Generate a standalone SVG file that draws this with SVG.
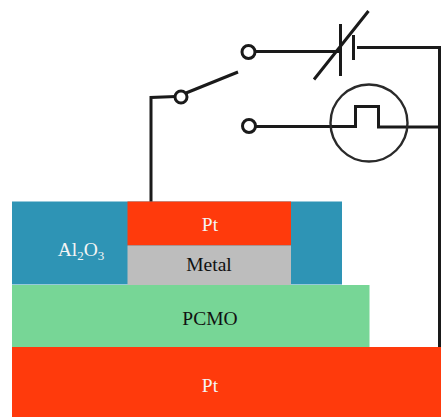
<svg xmlns="http://www.w3.org/2000/svg" width="441" height="417" viewBox="0 0 441 417">
<style>
text{font-family:"Liberation Serif","Times New Roman",serif;font-size:19.500px;text-anchor:middle}
.w{fill:#f4f4f4}.k{fill:#111}
.wire{fill:none;stroke:#1a1a1a;stroke-width:3}
.thin{fill:none;stroke:#2a2a2a;stroke-width:2.400}
.term{fill:#fff;stroke:#1a1a1a;stroke-width:3}
</style>
<rect width="441" height="417" fill="#fff"/>
<g id="connectors">
<path class="wire" d="M151 202V97.500L176 96.500"/>
<path class="wire" d="M186 93L238 72"/>
<path class="wire" d="M254 51.500H340"/>
<path class="wire" d="M357 47.500H439.500V347"/>
<path class="wire" d="M255 126.500H355.500V106.500H378.500V127H439"/>
</g>
<g id="switch-pivot"><circle class="term" cx="181" cy="97" r="6"/></g>
<g id="terminal-top"><circle class="term" cx="248.500" cy="52" r="6.500"/></g>
<g id="terminal-bottom"><circle class="term" cx="249" cy="126" r="6.500"/></g>
<g id="variable-capacitor">
<path class="wire" d="M340.500 24V76M353.500 35V60M314 79.500L368.500 11"/>
</g>
<g id="pulse-source"><circle class="thin" cx="369" cy="123" r="38.500"/></g>
<g id="al2o3">
<rect x="12" y="201.500" width="330" height="83" fill="#2e94b5"/>
<text class="w" x="81" y="256">Al<tspan font-size="13" dy="4">2</tspan><tspan dy="-4">O</tspan><tspan font-size="13" dy="4">3</tspan></text>
</g>
<g id="pt-top">
<rect x="127.500" y="201.500" width="163.500" height="44" fill="#ff3a0c"/>
<text class="w" x="210" y="231">Pt</text>
</g>
<g id="metal">
<rect x="127.500" y="245.500" width="163.500" height="39.500" fill="#bdbdbd"/>
<text class="k" x="209" y="271">Metal</text>
</g>
<g id="pcmo">
<rect x="12" y="285" width="357.500" height="62" fill="#77d696"/>
<text class="k" x="210" y="325">PCMO</text>
</g>
<g id="pt-bottom">
<rect x="12" y="347" width="429" height="70" fill="#ff3a0c"/>
<text class="w" x="210" y="392">Pt</text>
</g>
</svg>
